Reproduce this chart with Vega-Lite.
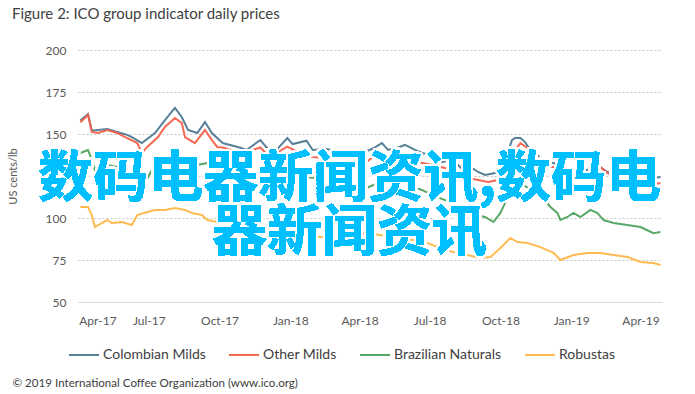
{
  "$schema": "https://vega.github.io/schema/vega-lite/v6.json",
  "width": 584,
  "height": 252,
  "autosize": {"type": "none"},
  "padding": {"top": 50, "left": 78, "right": 33, "bottom": 92},
  "background": "white",
  "title": {"text": "Figure 2: ICO group indicator daily prices", "anchor": "start", "frame": "group", "dx": -66, "offset": 22, "font": "Lato", "fontSize": 15, "fontWeight": "normal", "color": "#404040"},
  "config": {"view": {"stroke": null}, "font": "Lato"},
  "data": {"values": [
    {"d": "2017/04/03", "s": "Colombian Milds", "v": 158},
    {"d": "2017/04/13", "s": "Colombian Milds", "v": 161.8},
    {"d": "2017/04/18", "s": "Colombian Milds", "v": 152},
    {"d": "2017/04/26", "s": "Colombian Milds", "v": 152.4},
    {"d": "2017/05/08", "s": "Colombian Milds", "v": 153},
    {"d": "2017/05/21", "s": "Colombian Milds", "v": 151.2},
    {"d": "2017/06/03", "s": "Colombian Milds", "v": 149.5},
    {"d": "2017/06/09", "s": "Colombian Milds", "v": 148.2},
    {"d": "2017/06/22", "s": "Colombian Milds", "v": 144.6},
    {"d": "2017/07/09", "s": "Colombian Milds", "v": 150.6},
    {"d": "2017/07/22", "s": "Colombian Milds", "v": 158.3},
    {"d": "2017/08/04", "s": "Colombian Milds", "v": 165.5},
    {"d": "2017/08/13", "s": "Colombian Milds", "v": 160},
    {"d": "2017/08/21", "s": "Colombian Milds", "v": 152.4},
    {"d": "2017/09/02", "s": "Colombian Milds", "v": 150.6},
    {"d": "2017/09/12", "s": "Colombian Milds", "v": 157.1},
    {"d": "2017/09/21", "s": "Colombian Milds", "v": 150.6},
    {"d": "2017/10/05", "s": "Colombian Milds", "v": 144.6},
    {"d": "2017/10/27", "s": "Colombian Milds", "v": 142},
    {"d": "2017/11/05", "s": "Colombian Milds", "v": 140.5},
    {"d": "2017/11/23", "s": "Colombian Milds", "v": 146.4},
    {"d": "2017/12/01", "s": "Colombian Milds", "v": 142},
    {"d": "2017/12/14", "s": "Colombian Milds", "v": 140.5},
    {"d": "2017/12/28", "s": "Colombian Milds", "v": 147.6},
    {"d": "2018/01/04", "s": "Colombian Milds", "v": 144},
    {"d": "2018/01/22", "s": "Colombian Milds", "v": 146},
    {"d": "2018/01/30", "s": "Colombian Milds", "v": 140.5},
    {"d": "2018/02/17", "s": "Colombian Milds", "v": 141},
    {"d": "2018/03/06", "s": "Colombian Milds", "v": 139.5},
    {"d": "2018/03/19", "s": "Colombian Milds", "v": 139},
    {"d": "2018/04/01", "s": "Colombian Milds", "v": 138.8},
    {"d": "2018/04/14", "s": "Colombian Milds", "v": 140.5},
    {"d": "2018/04/21", "s": "Colombian Milds", "v": 142},
    {"d": "2018/04/30", "s": "Colombian Milds", "v": 144.6},
    {"d": "2018/05/08", "s": "Colombian Milds", "v": 140.5},
    {"d": "2018/05/21", "s": "Colombian Milds", "v": 142},
    {"d": "2018/05/30", "s": "Colombian Milds", "v": 143.5},
    {"d": "2018/06/12", "s": "Colombian Milds", "v": 140.5},
    {"d": "2018/06/21", "s": "Colombian Milds", "v": 138.7},
    {"d": "2018/07/04", "s": "Colombian Milds", "v": 137.5},
    {"d": "2018/07/17", "s": "Colombian Milds", "v": 133.3},
    {"d": "2018/07/30", "s": "Colombian Milds", "v": 134.5},
    {"d": "2018/08/07", "s": "Colombian Milds", "v": 131.5},
    {"d": "2018/08/16", "s": "Colombian Milds", "v": 127.4},
    {"d": "2018/08/25", "s": "Colombian Milds", "v": 129.8},
    {"d": "2018/09/02", "s": "Colombian Milds", "v": 127.4},
    {"d": "2018/09/11", "s": "Colombian Milds", "v": 125.6},
    {"d": "2018/09/24", "s": "Colombian Milds", "v": 126.8},
    {"d": "2018/10/07", "s": "Colombian Milds", "v": 134.5},
    {"d": "2018/10/16", "s": "Colombian Milds", "v": 146.4},
    {"d": "2018/10/20", "s": "Colombian Milds", "v": 147.6},
    {"d": "2018/10/27", "s": "Colombian Milds", "v": 147.6},
    {"d": "2018/11/02", "s": "Colombian Milds", "v": 145.2},
    {"d": "2018/11/09", "s": "Colombian Milds", "v": 140.5},
    {"d": "2018/11/18", "s": "Colombian Milds", "v": 137.5},
    {"d": "2018/11/26", "s": "Colombian Milds", "v": 133.3},
    {"d": "2018/12/09", "s": "Colombian Milds", "v": 132.7},
    {"d": "2018/12/22", "s": "Colombian Milds", "v": 130.4},
    {"d": "2019/01/09", "s": "Colombian Milds", "v": 128.6},
    {"d": "2019/01/22", "s": "Colombian Milds", "v": 128.6},
    {"d": "2019/02/04", "s": "Colombian Milds", "v": 131.5},
    {"d": "2019/02/17", "s": "Colombian Milds", "v": 127.4},
    {"d": "2019/03/02", "s": "Colombian Milds", "v": 125.6},
    {"d": "2019/03/15", "s": "Colombian Milds", "v": 125.6},
    {"d": "2019/03/28", "s": "Colombian Milds", "v": 124.4},
    {"d": "2019/04/10", "s": "Colombian Milds", "v": 123.8},
    {"d": "2019/04/18", "s": "Colombian Milds", "v": 123.8},
    {"d": "2019/04/27", "s": "Colombian Milds", "v": 124.4},

    {"d": "2017/04/03", "s": "Other Milds", "v": 157},
    {"d": "2017/04/13", "s": "Other Milds", "v": 161.3},
    {"d": "2017/04/18", "s": "Other Milds", "v": 151.2},
    {"d": "2017/04/26", "s": "Other Milds", "v": 150.6},
    {"d": "2017/05/08", "s": "Other Milds", "v": 152.4},
    {"d": "2017/05/21", "s": "Other Milds", "v": 150.6},
    {"d": "2017/06/03", "s": "Other Milds", "v": 147.6},
    {"d": "2017/06/16", "s": "Other Milds", "v": 144.6},
    {"d": "2017/06/22", "s": "Other Milds", "v": 138.7},
    {"d": "2017/06/29", "s": "Other Milds", "v": 142.3},
    {"d": "2017/07/13", "s": "Other Milds", "v": 148.2},
    {"d": "2017/07/22", "s": "Other Milds", "v": 154.2},
    {"d": "2017/08/04", "s": "Other Milds", "v": 159.5},
    {"d": "2017/08/13", "s": "Other Milds", "v": 156.5},
    {"d": "2017/08/17", "s": "Other Milds", "v": 148.2},
    {"d": "2017/08/30", "s": "Other Milds", "v": 144.6},
    {"d": "2017/09/12", "s": "Other Milds", "v": 152.4},
    {"d": "2017/09/21", "s": "Other Milds", "v": 146.4},
    {"d": "2017/09/28", "s": "Other Milds", "v": 142.3},
    {"d": "2017/10/05", "s": "Other Milds", "v": 142},
    {"d": "2017/10/27", "s": "Other Milds", "v": 138.7},
    {"d": "2017/11/05", "s": "Other Milds", "v": 136},
    {"d": "2017/11/13", "s": "Other Milds", "v": 140.5},
    {"d": "2017/11/23", "s": "Other Milds", "v": 142},
    {"d": "2017/12/05", "s": "Other Milds", "v": 136.3},
    {"d": "2017/12/28", "s": "Other Milds", "v": 142.5},
    {"d": "2018/01/13", "s": "Other Milds", "v": 138.7},
    {"d": "2018/01/30", "s": "Other Milds", "v": 136.3},
    {"d": "2018/02/17", "s": "Other Milds", "v": 135.7},
    {"d": "2018/03/06", "s": "Other Milds", "v": 134.5},
    {"d": "2018/03/23", "s": "Other Milds", "v": 133.3},
    {"d": "2018/04/10", "s": "Other Milds", "v": 133.3},
    {"d": "2018/04/25", "s": "Other Milds", "v": 138.7},
    {"d": "2018/05/08", "s": "Other Milds", "v": 135.7},
    {"d": "2018/05/21", "s": "Other Milds", "v": 138.7},
    {"d": "2018/06/03", "s": "Other Milds", "v": 137.5},
    {"d": "2018/06/16", "s": "Other Milds", "v": 133.3},
    {"d": "2018/07/04", "s": "Other Milds", "v": 131.5},
    {"d": "2018/07/21", "s": "Other Milds", "v": 129.8},
    {"d": "2018/08/07", "s": "Other Milds", "v": 127.4},
    {"d": "2018/08/20", "s": "Other Milds", "v": 123.8},
    {"d": "2018/09/02", "s": "Other Milds", "v": 122.6},
    {"d": "2018/09/15", "s": "Other Milds", "v": 121.4},
    {"d": "2018/09/28", "s": "Other Milds", "v": 122.6},
    {"d": "2018/10/11", "s": "Other Milds", "v": 130.4},
    {"d": "2018/10/20", "s": "Other Milds", "v": 140.5},
    {"d": "2018/10/27", "s": "Other Milds", "v": 144.6},
    {"d": "2018/11/05", "s": "Other Milds", "v": 141.7},
    {"d": "2018/11/13", "s": "Other Milds", "v": 135.7},
    {"d": "2018/11/26", "s": "Other Milds", "v": 130.4},
    {"d": "2018/12/09", "s": "Other Milds", "v": 130.4},
    {"d": "2018/12/22", "s": "Other Milds", "v": 129.8},
    {"d": "2019/01/09", "s": "Other Milds", "v": 127.4},
    {"d": "2019/01/22", "s": "Other Milds", "v": 127.4},
    {"d": "2019/02/05", "s": "Other Milds", "v": 131.5},
    {"d": "2019/02/17", "s": "Other Milds", "v": 126.8},
    {"d": "2019/03/02", "s": "Other Milds", "v": 123.8},
    {"d": "2019/03/15", "s": "Other Milds", "v": 122.6},
    {"d": "2019/03/28", "s": "Other Milds", "v": 122.6},
    {"d": "2019/04/14", "s": "Other Milds", "v": 119.6},
    {"d": "2019/04/27", "s": "Other Milds", "v": 120.8},

    {"d": "2017/04/03", "s": "Brazilian Naturals", "v": 138.7},
    {"d": "2017/04/13", "s": "Brazilian Naturals", "v": 140.5},
    {"d": "2017/04/18", "s": "Brazilian Naturals", "v": 134.5},
    {"d": "2017/04/22", "s": "Brazilian Naturals", "v": 128.6},
    {"d": "2017/05/01", "s": "Brazilian Naturals", "v": 133.3},
    {"d": "2017/05/08", "s": "Brazilian Naturals", "v": 131.5},
    {"d": "2017/05/21", "s": "Brazilian Naturals", "v": 130.4},
    {"d": "2017/06/03", "s": "Brazilian Naturals", "v": 127.4},
    {"d": "2017/06/16", "s": "Brazilian Naturals", "v": 124.4},
    {"d": "2017/06/22", "s": "Brazilian Naturals", "v": 117},
    {"d": "2017/07/05", "s": "Brazilian Naturals", "v": 128.6},
    {"d": "2017/07/18", "s": "Brazilian Naturals", "v": 130.4},
    {"d": "2017/07/31", "s": "Brazilian Naturals", "v": 139.3},
    {"d": "2017/08/04", "s": "Brazilian Naturals", "v": 140.5},
    {"d": "2017/08/13", "s": "Brazilian Naturals", "v": 132.7},
    {"d": "2017/08/21", "s": "Brazilian Naturals", "v": 130.4},
    {"d": "2017/09/02", "s": "Brazilian Naturals", "v": 131.5},
    {"d": "2017/09/15", "s": "Brazilian Naturals", "v": 132.7},
    {"d": "2017/09/30", "s": "Brazilian Naturals", "v": 128.6},
    {"d": "2017/10/27", "s": "Brazilian Naturals", "v": 124.4},
    {"d": "2017/11/13", "s": "Brazilian Naturals", "v": 123.8},
    {"d": "2017/12/05", "s": "Brazilian Naturals", "v": 122.6},
    {"d": "2017/12/22", "s": "Brazilian Naturals", "v": 128.6},
    {"d": "2018/01/04", "s": "Brazilian Naturals", "v": 126.8},
    {"d": "2018/01/17", "s": "Brazilian Naturals", "v": 124.4},
    {"d": "2018/02/04", "s": "Brazilian Naturals", "v": 123.8},
    {"d": "2018/02/21", "s": "Brazilian Naturals", "v": 122.6},
    {"d": "2018/03/06", "s": "Brazilian Naturals", "v": 120.8},
    {"d": "2018/03/23", "s": "Brazilian Naturals", "v": 118.5},
    {"d": "2018/04/10", "s": "Brazilian Naturals", "v": 117.9},
    {"d": "2018/04/25", "s": "Brazilian Naturals", "v": 120.8},
    {"d": "2018/05/13", "s": "Brazilian Naturals", "v": 122.6},
    {"d": "2018/05/26", "s": "Brazilian Naturals", "v": 122.6},
    {"d": "2018/06/08", "s": "Brazilian Naturals", "v": 118.5},
    {"d": "2018/06/21", "s": "Brazilian Naturals", "v": 116.7},
    {"d": "2018/07/04", "s": "Brazilian Naturals", "v": 113.7},
    {"d": "2018/07/21", "s": "Brazilian Naturals", "v": 110.7},
    {"d": "2018/08/03", "s": "Brazilian Naturals", "v": 106.5},
    {"d": "2018/08/16", "s": "Brazilian Naturals", "v": 104.8},
    {"d": "2018/08/29", "s": "Brazilian Naturals", "v": 101.8},
    {"d": "2018/09/11", "s": "Brazilian Naturals", "v": 100.6},
    {"d": "2018/09/22", "s": "Brazilian Naturals", "v": 97.6},
    {"d": "2018/10/01", "s": "Brazilian Naturals", "v": 103},
    {"d": "2018/10/07", "s": "Brazilian Naturals", "v": 108.9},
    {"d": "2018/10/16", "s": "Brazilian Naturals", "v": 118.5},
    {"d": "2018/10/23", "s": "Brazilian Naturals", "v": 122.6},
    {"d": "2018/11/09", "s": "Brazilian Naturals", "v": 116.7},
    {"d": "2018/11/22", "s": "Brazilian Naturals", "v": 112.5},
    {"d": "2018/12/01", "s": "Brazilian Naturals", "v": 108.9},
    {"d": "2018/12/05", "s": "Brazilian Naturals", "v": 106.5},
    {"d": "2018/12/14", "s": "Brazilian Naturals", "v": 103},
    {"d": "2018/12/18", "s": "Brazilian Naturals", "v": 98.8},
    {"d": "2018/12/27", "s": "Brazilian Naturals", "v": 100.6},
    {"d": "2019/01/04", "s": "Brazilian Naturals", "v": 103},
    {"d": "2019/01/13", "s": "Brazilian Naturals", "v": 100.6},
    {"d": "2019/01/26", "s": "Brazilian Naturals", "v": 104.8},
    {"d": "2019/02/04", "s": "Brazilian Naturals", "v": 103},
    {"d": "2019/02/12", "s": "Brazilian Naturals", "v": 98.8},
    {"d": "2019/02/25", "s": "Brazilian Naturals", "v": 97},
    {"d": "2019/03/15", "s": "Brazilian Naturals", "v": 95.8},
    {"d": "2019/04/01", "s": "Brazilian Naturals", "v": 94.6},
    {"d": "2019/04/18", "s": "Brazilian Naturals", "v": 91},
    {"d": "2019/04/27", "s": "Brazilian Naturals", "v": 91.6},

    {"d": "2017/04/03", "s": "Robustas", "v": 106.5},
    {"d": "2017/04/13", "s": "Robustas", "v": 106.5},
    {"d": "2017/04/18", "s": "Robustas", "v": 101.8},
    {"d": "2017/04/22", "s": "Robustas", "v": 94.6},
    {"d": "2017/05/08", "s": "Robustas", "v": 98.8},
    {"d": "2017/05/14", "s": "Robustas", "v": 97},
    {"d": "2017/05/27", "s": "Robustas", "v": 97.6},
    {"d": "2017/06/09", "s": "Robustas", "v": 95.8},
    {"d": "2017/06/16", "s": "Robustas", "v": 101.8},
    {"d": "2017/06/29", "s": "Robustas", "v": 103.6},
    {"d": "2017/07/09", "s": "Robustas", "v": 104.8},
    {"d": "2017/07/22", "s": "Robustas", "v": 104.8},
    {"d": "2017/08/04", "s": "Robustas", "v": 106},
    {"d": "2017/08/17", "s": "Robustas", "v": 104.8},
    {"d": "2017/08/26", "s": "Robustas", "v": 103},
    {"d": "2017/09/08", "s": "Robustas", "v": 101.8},
    {"d": "2017/09/15", "s": "Robustas", "v": 98.8},
    {"d": "2017/09/28", "s": "Robustas", "v": 97.6},
    {"d": "2017/10/21", "s": "Robustas", "v": 94},
    {"d": "2017/11/12", "s": "Robustas", "v": 91},
    {"d": "2017/11/25", "s": "Robustas", "v": 88.7},
    {"d": "2017/12/21", "s": "Robustas", "v": 88.7},
    {"d": "2018/01/16", "s": "Robustas", "v": 89.9},
    {"d": "2018/02/10", "s": "Robustas", "v": 88.7},
    {"d": "2018/02/27", "s": "Robustas", "v": 88.1},
    {"d": "2018/03/06", "s": "Robustas", "v": 88.7},
    {"d": "2018/03/19", "s": "Robustas", "v": 89.9},
    {"d": "2018/04/14", "s": "Robustas", "v": 91},
    {"d": "2018/04/27", "s": "Robustas", "v": 89.9},
    {"d": "2018/05/19", "s": "Robustas", "v": 88.7},
    {"d": "2018/06/09", "s": "Robustas", "v": 86.9},
    {"d": "2018/06/28", "s": "Robustas", "v": 85.1},
    {"d": "2018/07/15", "s": "Robustas", "v": 82.1},
    {"d": "2018/08/01", "s": "Robustas", "v": 79.8},
    {"d": "2018/08/19", "s": "Robustas", "v": 78},
    {"d": "2018/09/05", "s": "Robustas", "v": 76.2},
    {"d": "2018/09/18", "s": "Robustas", "v": 76.8},
    {"d": "2018/10/01", "s": "Robustas", "v": 82.1},
    {"d": "2018/10/14", "s": "Robustas", "v": 88.1},
    {"d": "2018/10/23", "s": "Robustas", "v": 85.7},
    {"d": "2018/11/05", "s": "Robustas", "v": 85.1},
    {"d": "2018/11/22", "s": "Robustas", "v": 82.7},
    {"d": "2018/12/09", "s": "Robustas", "v": 79.2},
    {"d": "2018/12/18", "s": "Robustas", "v": 75},
    {"d": "2019/01/04", "s": "Robustas", "v": 78},
    {"d": "2019/01/22", "s": "Robustas", "v": 79.2},
    {"d": "2019/02/08", "s": "Robustas", "v": 79.2},
    {"d": "2019/02/25", "s": "Robustas", "v": 78},
    {"d": "2019/03/15", "s": "Robustas", "v": 76.8},
    {"d": "2019/04/01", "s": "Robustas", "v": 73.8},
    {"d": "2019/04/18", "s": "Robustas", "v": 73.2},
    {"d": "2019/04/27", "s": "Robustas", "v": 72}
  ]},
  "layer": [
    {
      "mark": {"type": "line", "strokeWidth": 2, "opacity": 0.95},
      "encoding": {
        "x": {
          "field": "d", "type": "temporal",
          "scale": {"domain": [{"year": 2017, "month": 3, "date": 31}, {"year": 2019, "month": 4, "date": 29}]},
          "axis": {
            "title": "© 2019 International Coffee Organization (www.ico.org)",
            "titleX": -66, "titleY": 84, "titleAnchor": "start", "titleAlign": "left", "titleBaseline": "alphabetic",
            "titleFont": "Lato", "titleFontSize": 11.6, "titleFontWeight": "normal", "titleColor": "#404040",
            "values": [
              {"year": 2017, "month": 4, "date": 1}, {"year": 2017, "month": 7, "date": 1}, {"year": 2017, "month": 10, "date": 1},
              {"year": 2018, "month": 1, "date": 1}, {"year": 2018, "month": 4, "date": 1}, {"year": 2018, "month": 7, "date": 1},
              {"year": 2018, "month": 10, "date": 1}, {"year": 2019, "month": 1, "date": 1}, {"year": 2019, "month": 4, "date": 1}
            ],
            "format": "%b-%y", "labelFont": "Lato", "labelFontSize": 12, "labelColor": "#595959",
            "labelPadding": 13, "ticks": false, "grid": false, "domainColor": "#D9D9D9", "domainWidth": 1
          }
        },
        "y": {
          "field": "v", "type": "quantitative",
          "scale": {"domain": [50, 200], "nice": false, "zero": false},
          "axis": {
            "title": "US cents/lb", "titleFont": "Lato", "titleFontSize": 11, "titleFontWeight": "normal", "titleColor": "#595959",
            "titleX": -65, "titleY": 126, "titleAngle": -90, "titleAlign": "center", "titleBaseline": "middle",
            "values": [50, 75, 100, 125, 150, 175, 200],
            "labelFont": "Lato", "labelFontSize": 12, "labelColor": "#595959", "labelPadding": 12,
            "ticks": false, "domain": false, "grid": true, "gridColor": "#C8C8C8", "gridDash": [2, 2], "gridWidth": 1
          }
        },
        "color": {
          "field": "s", "type": "nominal",
          "scale": {"domain": ["Colombian Milds", "Other Milds", "Brazilian Naturals", "Robustas"], "range": ["#4F7A94", "#F5604A", "#4EA35F", "#FFB748"]},
          "legend": {
            "title": null, "orient": "none", "legendX": -10, "legendY": 289, "direction": "horizontal",
            "symbolType": "stroke", "symbolSize": 900, "symbolStrokeWidth": 2,
            "labelFont": "Lato", "labelFontSize": 14, "labelColor": "#404040", "labelOffset": 3, "columnPadding": 19
          }
        },
        "order": {"field": "d", "type": "temporal"}
      }
    },
    {
      "mark": {"type": "text", "text": "数码电器新闻资讯,数码电\n器新闻资讯", "lineBreak": "\n", "font": "Noto Sans CJK SC", "fontWeight": "bold", "fontSize": 55, "lineHeight": 54, "align": "center", "baseline": "middle", "fill": "white", "stroke": "white", "strokeWidth": 5, "strokeJoin": "round"},
      "encoding": {
        "x": {"datum": {"year": 2018, "month": 3, "date": 19}, "type": "temporal"},
        "y": {"datum": 123.5, "type": "quantitative"}
      }
    },
    {
      "mark": {"type": "text", "text": "数码电器新闻资讯,数码电\n器新闻资讯", "lineBreak": "\n", "font": "Noto Sans CJK SC", "fontWeight": "bold", "fontSize": 55, "lineHeight": 54, "align": "center", "baseline": "middle", "fill": "#00BFFF"},
      "encoding": {
        "x": {"datum": {"year": 2018, "month": 3, "date": 19}, "type": "temporal"},
        "y": {"datum": 123.5, "type": "quantitative"}
      }
    }
  ]
}
